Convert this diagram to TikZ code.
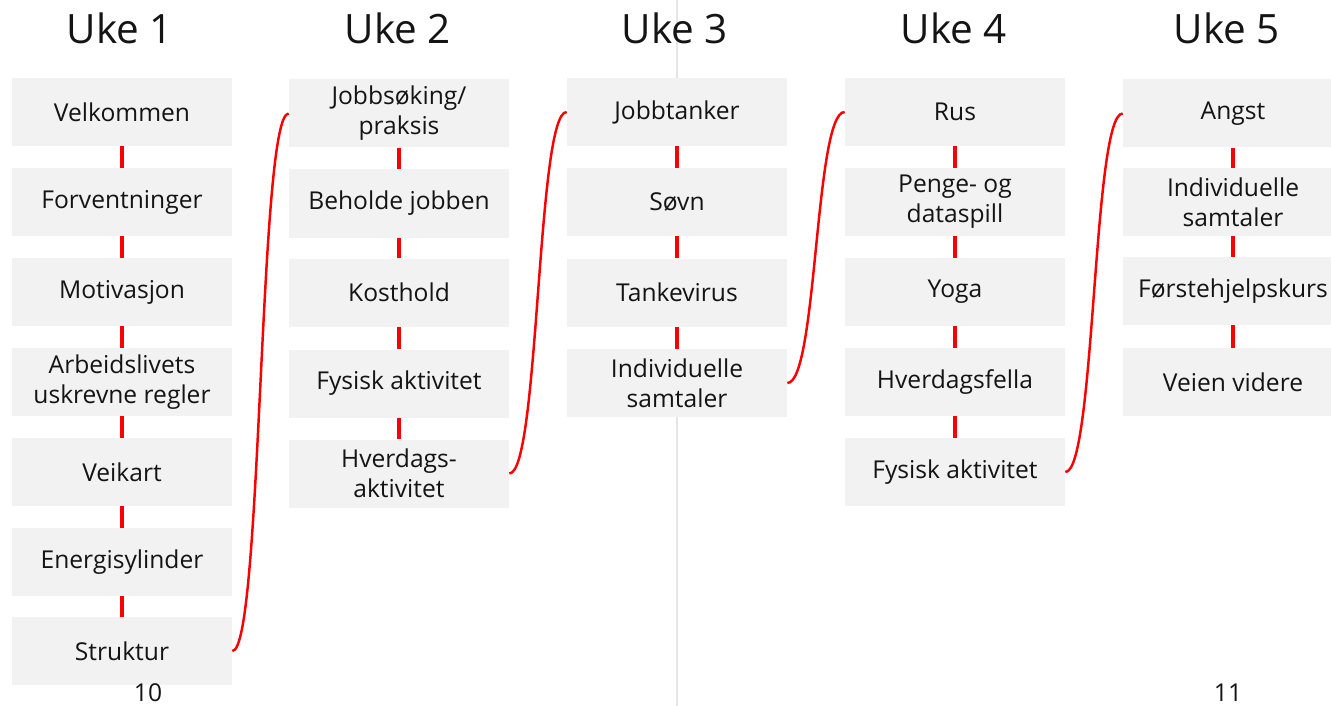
\documentclass[tikz,border=0pt]{standalone}
\usepackage{fontspec}
\setmainfont{Open Sans}
\usepackage{tikz}
\usetikzlibrary{calc,positioning}

\definecolor{boxgray}{RGB}{242,242,242}
\definecolor{pagegray}{RGB}{230,230,230}
\definecolor{linkred}{RGB}{250,0,0}
\definecolor{txt}{RGB}{20,20,20}

\begin{document}
\begin{tikzpicture}[box/.style={fill=boxgray,minimum width=4.4cm,minimum height=1.36cm,inner sep=0pt,align=center,text=txt,font=\fontsize{14}{17}\selectfont},
  title/.style={text=txt,font=\fontsize{23}{28}\selectfont},
  pnum/.style={text=txt,inner sep=1pt,font=\fontsize{14}{17}\selectfont},
  link/.style={linkred,line width=1.8pt},
  jump/.style={linkred,line width=1.4pt}]
  \useasboundingbox (0,0) rectangle (26.62,-14.12);
  \draw[pagegray,line width=1.5pt] (13.54,0) -- (13.54,-14.12);

  \node[title] (t1) at (2.40,-0.56) {Uke 1};
  \node[title] (t2) at (7.96,-0.56) {Uke 2};
  \node[title] (t3) at (13.50,-0.56) {Uke 3};
  \node[title] (t4) at (19.08,-0.56) {Uke 4};
  \node[title] (t5) at (24.54,-0.56) {Uke 5};

  \node[box] (a1) at (2.44,-2.24) {Velkommen};
  \node[box] (a2) at (2.44,-4.04) {Forventninger};
  \node[box] (a3) at (2.44,-5.84) {Motivasjon};
  \node[box] (a4) at (2.44,-7.64) {Arbeidslivets\\uskrevne regler};
  \node[box] (a5) at (2.44,-9.44) {Veikart};
  \node[box] (a6) at (2.44,-11.24) {Energisylinder};
  \node[box] (a7) at (2.44,-13.02) {Struktur};

  \node[box] (b1) at (7.98,-2.27) {Jobbsøking/\\praksis};
  \node[box] (b2) at (7.98,-4.07) {Beholde jobben};
  \node[box] (b3) at (7.98,-5.85) {Kosthold};
  \node[box] (b4) at (7.98,-7.67) {Fysisk aktivitet};
  \node[box] (b5) at (7.98,-9.47) {Hverdags-\\aktivitet};

  \node[box] (c1) at (13.54,-2.24) {Jobbtanker};
  \node[box] (c2) at (13.54,-4.04) {Søvn};
  \node[box] (c3) at (13.54,-5.85) {Tankevirus};
  \node[box] (c4) at (13.54,-7.66) {Individuelle\\samtaler};

  \node[box] (d1) at (19.10,-2.24) {Rus};
  \node[box] (d2) at (19.10,-4.04) {Penge- og\\dataspill};
  \node[box] (d3) at (19.10,-5.84) {Yoga};
  \node[box] (d4) at (19.10,-7.64) {Hverdagsfella};
  \node[box] (d5) at (19.10,-9.44) {Fysisk aktivitet};

  \node[box] (e1) at (24.66,-2.27) {Angst};
  \node[box] (e2) at (24.66,-4.04) {Individuelle\\samtaler};
  \node[box] (e3) at (24.66,-5.82) {Førstehjelpskurs};
  \node[box] (e4) at (24.66,-7.64) {Veien videre};

  \node[pnum] (p10) at (2.96,-13.86) {10};
  \node[pnum] (p11) at (24.56,-13.86) {11};

  % within each week
  \foreach \i/\j in {1/2,2/3,3/4,4/5,5/6,6/7} \draw[link] (a\i) -- (a\j);
  \foreach \i/\j in {1/2,2/3,3/4,4/5} \draw[link] (b\i) -- (b\j);
  \foreach \i/\j in {1/2,2/3,3/4} \draw[link] (c\i) -- (c\j);
  \foreach \i/\j in {1/2,2/3,3/4,4/5} \draw[link] (d\i) -- (d\j);
  \foreach \i/\j in {1/2,2/3,3/4} \draw[link] (e\i) -- (e\j);

  % on to next week
  \draw[jump] (a7.east) .. controls +(0.6,0) and +(-0.6,0) .. (b1.west);
  \draw[jump] (b5.east) .. controls +(0.6,0) and +(-0.6,0) .. (c1.west);
  \draw[jump] (c4.east) .. controls +(0.6,0) and +(-0.6,0) .. (d1.west);
  \draw[jump] (d5.east) .. controls +(0.6,0) and +(-0.6,0) .. (e1.west);
\end{tikzpicture}
\end{document}
